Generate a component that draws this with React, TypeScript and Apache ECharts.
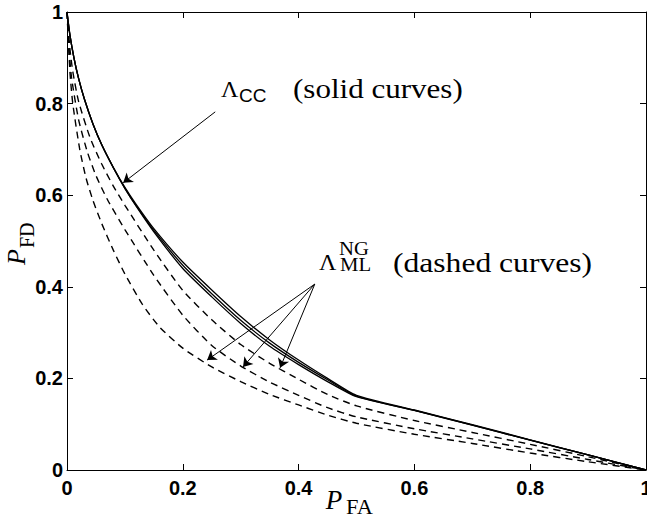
import React, { useEffect, useRef } from "react";
import * as echarts from "echarts";

// ROC-style curves: P_FD versus P_FA
type Pt = [number, number];

const solidA: Pt[] = [
  [0, 1], [0.005, 0.95], [0.012, 0.9], [0.02, 0.855], [0.03, 0.81], [0.045, 0.755],
  [0.06, 0.71], [0.08, 0.66], [0.1, 0.615], [0.12, 0.575], [0.15, 0.52], [0.2, 0.44],
  [0.25, 0.378], [0.3, 0.32], [0.35, 0.27], [0.4, 0.23], [0.45, 0.193], [0.5, 0.16],
  [0.6, 0.13], [0.7, 0.098], [0.8, 0.065], [0.9, 0.033], [1, 0],
];
const solidB: Pt[] = [
  [0, 1], [0.005, 0.95], [0.012, 0.9], [0.02, 0.855], [0.03, 0.81], [0.045, 0.755],
  [0.06, 0.71], [0.08, 0.66], [0.1, 0.615], [0.12, 0.576], [0.15, 0.523], [0.2, 0.447],
  [0.25, 0.385], [0.3, 0.327], [0.35, 0.277], [0.4, 0.235], [0.45, 0.197], [0.5, 0.161],
  [0.6, 0.13], [0.7, 0.098], [0.8, 0.065], [0.9, 0.033], [1, 0],
];
const solidC: Pt[] = [
  [0, 1], [0.005, 0.95], [0.012, 0.9], [0.02, 0.855], [0.03, 0.81], [0.045, 0.755],
  [0.06, 0.71], [0.08, 0.661], [0.1, 0.617], [0.12, 0.579], [0.15, 0.527], [0.2, 0.454],
  [0.25, 0.393], [0.3, 0.335], [0.35, 0.284], [0.4, 0.24], [0.45, 0.2], [0.5, 0.163],
  [0.6, 0.131], [0.7, 0.099], [0.8, 0.066], [0.9, 0.033], [1, 0],
];
const dashedA: Pt[] = [
  [0, 1], [0.005, 0.92], [0.01, 0.87], [0.02, 0.805], [0.04, 0.725], [0.06, 0.668],
  [0.08, 0.62], [0.1, 0.578], [0.15, 0.48], [0.2, 0.392], [0.25, 0.328], [0.3, 0.274],
  [0.35, 0.233], [0.4, 0.198], [0.45, 0.165], [0.5, 0.14], [0.6, 0.108], [0.7, 0.082],
  [0.8, 0.056], [0.9, 0.029], [1, 0],
];
const dashedB: Pt[] = [
  [0, 1], [0.004, 0.91], [0.008, 0.855], [0.02, 0.765], [0.035, 0.695], [0.05, 0.643],
  [0.07, 0.59], [0.1, 0.525], [0.15, 0.425], [0.2, 0.338], [0.25, 0.272], [0.3, 0.227],
  [0.35, 0.192], [0.4, 0.163], [0.45, 0.136], [0.5, 0.116], [0.6, 0.09], [0.7, 0.068],
  [0.8, 0.046], [0.9, 0.023], [1, 0],
];
const dashedC: Pt[] = [
  [0, 1], [0.005, 0.87], [0.01, 0.8], [0.022, 0.7], [0.033, 0.637], [0.045, 0.588],
  [0.06, 0.538], [0.08, 0.48], [0.1, 0.428], [0.13, 0.362], [0.16, 0.312], [0.2, 0.266],
  [0.25, 0.225], [0.3, 0.193], [0.35, 0.165], [0.4, 0.142], [0.45, 0.12], [0.5, 0.102],
  [0.6, 0.078], [0.7, 0.058], [0.8, 0.037], [0.9, 0.018], [1, 0],
];

// annotation arrows (data coordinates)
const arrowCCFrom: Pt = [0.256, 0.782];
const arrowCCTo: Pt = [0.097, 0.627];
const arrowMLFrom: Pt = [0.428, 0.406];
const arrowMLTo: Pt[] = [[0.242, 0.24], [0.304, 0.225], [0.368, 0.223]];

const SERIF = "'Liberation Serif', 'DejaVu Serif', serif";
const SANS = "'Liberation Sans', Arial, sans-serif";

function buildOption(): echarts.EChartsCoreOption {
  const tickStyle = { inside: true, length: 6, lineStyle: { color: "#000", width: 1 } };
  const lineAx = { onZero: false, lineStyle: { color: "#000", width: 1 } };
  const label = { color: "#000", fontSize: 20, fontWeight: "bold", fontFamily: SANS };

  const curve = (data: Pt[], dashed: boolean, extra: object = {}) => ({
    type: "line",
    data,
    showSymbol: false,
    symbol: "none",
    smooth: 0.2,
    silent: true,
    lineStyle: { color: "#000", width: dashed ? 1.4 : 1.3, type: dashed ? [7, 5] : "solid" },
    z: dashed ? 2 : 3,
    ...extra,
  });

  const arrows = [
    [{ coord: arrowCCFrom }, { coord: arrowCCTo }],
    ...arrowMLTo.map((t) => [{ coord: arrowMLFrom }, { coord: t }]),
  ];

  const txt = (x: number, y: number, text: string, fontSize: number, extra: object = {}, font = SERIF) => ({
    type: "text",
    x,
    y,
    ...extra,
    style: { text, fontFamily: font, fontSize, fill: "#000", verticalAlign: "middle" },
  });

  return {
    animation: false,
    backgroundColor: "#fff",
    grid: { left: 67, right: 1, top: 12, bottom: 50, outerBoundsMode: "none", containLabel: false },
    xAxis: [
      {
        type: "value", min: 0, max: 1, interval: 0.2, position: "bottom",
        axisLine: lineAx, axisTick: tickStyle, splitLine: { show: false },
        axisLabel: { ...label, margin: 8 },
      },
      {
        type: "value", min: 0, max: 1, interval: 0.2, position: "top",
        axisLine: lineAx, axisTick: tickStyle, splitLine: { show: false },
        axisLabel: { show: false },
      },
    ],
    yAxis: [
      {
        type: "value", min: 0, max: 1, interval: 0.2, position: "left",
        axisLine: lineAx, axisTick: tickStyle, splitLine: { show: false },
        axisLabel: { ...label, margin: 4 },
      },
      {
        type: "value", min: 0, max: 1, interval: 0.2, position: "right",
        axisLine: lineAx, axisTick: tickStyle, splitLine: { show: false },
        axisLabel: { show: false },
      },
    ],
    series: [
      curve(dashedC, true),
      curve(dashedB, true),
      curve(dashedA, true),
      curve(solidA, false, {
        markLine: {
          silent: true,
          symbol: ["none", "arrow"],
          symbolSize: 9,
          label: { show: false },
          lineStyle: { color: "#000", width: 1, type: "solid" },
          data: arrows,
        },
      }),
      curve(solidB, false),
      curve(solidC, false),
    ],
    graphic: [
      // Λ_CC (solid curves)
      txt(221, 89, "Λ", 24),
      txt(239, 95, "CC", 19, {}, SANS),
      txt(293, 89, "(solid curves)", 27, { scaleX: 1.15 }),
      // Λ^NG_ML (dashed curves)
      txt(319, 262, "Λ", 24),
      txt(339, 249, "NG", 18, { scaleX: 1.15 }),
      txt(340, 265, "ML", 18, { scaleX: 1.15 }),
      txt(393, 263, "(dashed curves)", 27, { scaleX: 1.17 }),
      // axis titles
      {
        type: "text", x: 334, y: 500,
        style: { text: "P", fontFamily: SERIF, fontStyle: "italic", fontSize: 27, fill: "#000", align: "center", verticalAlign: "middle" },
      },
      {
        type: "text", x: 346, y: 507, scaleX: 1.12,
        style: { text: "FA", fontFamily: SERIF, fontSize: 20, fill: "#000", align: "left", verticalAlign: "middle" },
      },
      {
        type: "text", x: 16, y: 257, rotation: Math.PI / 2,
        style: { text: "P", fontFamily: SERIF, fontStyle: "italic", fontSize: 26, fill: "#000", align: "center", verticalAlign: "middle" },
      },
      {
        type: "text", x: 27, y: 248, rotation: Math.PI / 2,
        style: { text: "FD", fontFamily: SERIF, fontSize: 20, fill: "#000", align: "left", verticalAlign: "middle" },
      },
    ],
  };
}

export default function App() {
  const ref = useRef<HTMLDivElement>(null);
  useEffect(() => {
    if (!ref.current) return;
    const chart = echarts.init(ref.current, null, { renderer: "svg" });
    chart.setOption(buildOption());
    return () => chart.dispose();
  }, []);
  return (
    <div
      ref={ref}
      style={{ position: "fixed", left: 0, top: 0, width: 647, height: 520, background: "#fff" }}
    />
  );
}
